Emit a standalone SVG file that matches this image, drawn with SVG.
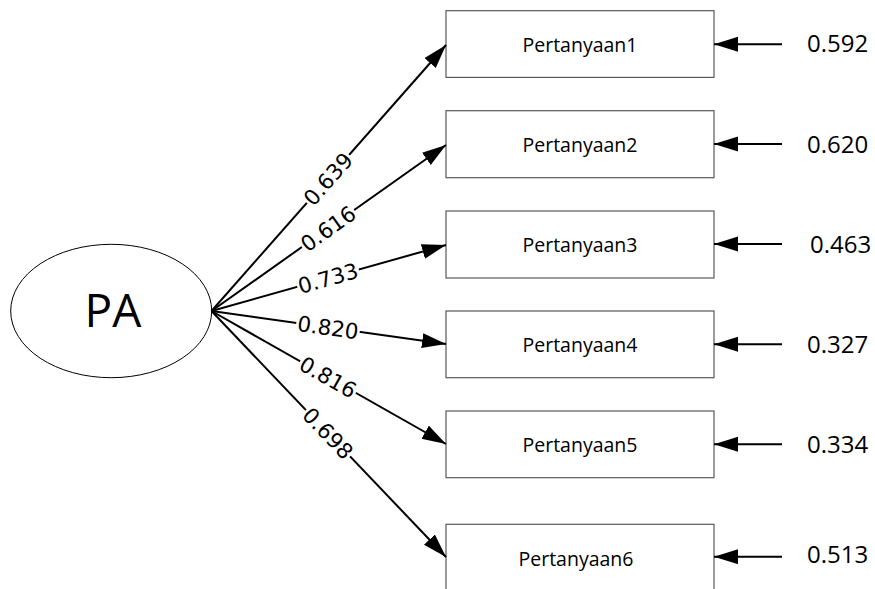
<svg xmlns="http://www.w3.org/2000/svg" width="875" height="589" viewBox="0 0 875 589">
<style>
.box{fill:#fff;stroke:#595959;stroke-width:1.2}
.lat{fill:#fff;stroke:#000;stroke-width:1}
.edge{stroke:#000;stroke-width:2;fill:none;marker-end:url(#ah)}
.lbl{font-family:"DejaVu Sans",sans-serif;font-size:21.5px;fill:#000;text-anchor:middle}
.bg{fill:#fff}
.bt{font-family:"Open Sans",sans-serif;font-size:19.5px;fill:#000;text-anchor:middle}
.err{font-family:"Open Sans",sans-serif;font-size:24px;fill:#000}
.pa{font-family:"Open Sans",sans-serif;font-size:46px;fill:#000;text-anchor:middle}
</style>
<defs>
<marker id="ah" markerUnits="userSpaceOnUse" markerWidth="26" markerHeight="16" refX="24" refY="7.5" orient="auto">
<path d="M0,0 L24,7.5 L0,15 z" fill="#000"/>
</marker>
</defs>
<g id="PA">
<ellipse class="lat" cx="111.2" cy="311" rx="100.5" ry="66.7"/>
<text class="pa" x="113" y="327">PA</text>
</g>
<g id="Pertanyaan1"><rect class="box" x="446" y="10.7" width="268" height="66.7"/><text class="bt" x="580" y="51.5">Pertanyaan1</text></g>
<g id="Pertanyaan2"><rect class="box" x="446" y="110.7" width="268" height="67"/><text class="bt" x="580" y="151.8">Pertanyaan2</text></g>
<g id="Pertanyaan3"><rect class="box" x="446" y="211" width="268" height="67"/><text class="bt" x="580" y="252">Pertanyaan3</text></g>
<g id="Pertanyaan4"><rect class="box" x="446" y="311" width="268" height="66.7"/><text class="bt" x="580" y="351.8">Pertanyaan4</text></g>
<g id="Pertanyaan5"><rect class="box" x="446" y="411" width="268" height="66.7"/><text class="bt" x="580" y="451.8">Pertanyaan5</text></g>
<g id="Pertanyaan6"><rect class="box" x="446" y="524.3" width="268" height="67"/><text class="bt" x="576" y="565.5">Pertanyaan6</text></g>
<g id="connectors">
<line class="edge" x1="211.5" y1="311" x2="446" y2="45"/>
<line class="edge" x1="211.5" y1="311" x2="446" y2="145"/>
<line class="edge" x1="211.5" y1="311" x2="446" y2="245"/>
<line class="edge" x1="211.5" y1="311" x2="446" y2="344"/>
<line class="edge" x1="211.5" y1="311" x2="446" y2="444"/>
<line class="edge" x1="211.5" y1="311" x2="446" y2="557"/>
<line class="edge" x1="782" y1="44.3" x2="714" y2="44.3"/>
<line class="edge" x1="782" y1="144" x2="714" y2="144"/>
<line class="edge" x1="782" y1="244" x2="714" y2="244"/>
<line class="edge" x1="782" y1="344.3" x2="714" y2="344.3"/>
<line class="edge" x1="782" y1="444.3" x2="714" y2="444.3"/>
<line class="edge" x1="782" y1="556.7" x2="714" y2="556.7"/>
<g transform="translate(328,178.9) rotate(-48.6)"><rect class="bg" x="-32" y="-8" width="64" height="16"/><text class="lbl" y="7.8">0.639</text></g>
<g transform="translate(328,228.5) rotate(-35.3)"><rect class="bg" x="-32" y="-8" width="64" height="16"/><text class="lbl" y="7.8">0.616</text></g>
<g transform="translate(328,278.2) rotate(-15.7)"><rect class="bg" x="-32" y="-8" width="64" height="16"/><text class="lbl" y="7.8">0.733</text></g>
<g transform="translate(328,327.4) rotate(8)"><rect class="bg" x="-32" y="-8" width="64" height="16"/><text class="lbl" y="7.8">0.820</text></g>
<g transform="translate(328,377.1) rotate(29.6)"><rect class="bg" x="-32" y="-8" width="64" height="16"/><text class="lbl" y="7.8">0.816</text></g>
<g transform="translate(328,433.2) rotate(46.4)"><rect class="bg" x="-32" y="-8" width="64" height="16"/><text class="lbl" y="7.8">0.698</text></g>
</g>
<g id="errors">
<text class="err" x="807" y="52">0.592</text>
<text class="err" x="807" y="153.3">0.620</text>
<text class="err" x="810" y="253.3">0.463</text>
<text class="err" x="807" y="353.3">0.327</text>
<text class="err" x="807" y="453.3">0.334</text>
<text class="err" x="807" y="563.3">0.513</text>
</g>
</svg>
